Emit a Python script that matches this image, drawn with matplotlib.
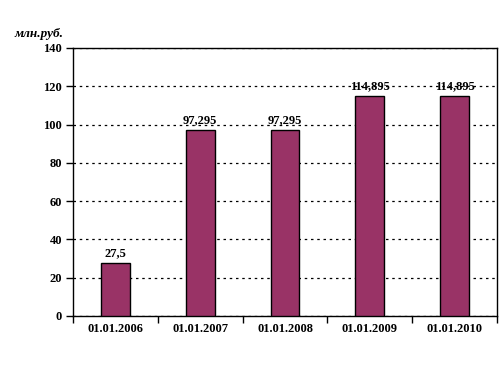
import matplotlib
matplotlib.use("Agg")
import matplotlib.pyplot as plt
import numpy as np

# chart data
dates = ["01.01.2006", "01.01.2007", "01.01.2008", "01.01.2009", "01.01.2010"]
values = [27.5, 97.295, 97.295, 114.895, 114.895]
labels = ["27,5", "97,295", "97,295", "114,895", "114,895"]
y_ticks = [0, 20, 40, 60, 80, 100, 120, 140]

plt.rcParams['font.family'] = ['Liberation Serif', 'DejaVu Serif']

fig = plt.figure(figsize=(5.02, 3.71), dpi=100)
ax = fig.add_axes([73 / 502, 1 - 316 / 371, (497 - 73) / 502, (316 - 48) / 371])

x = np.arange(len(dates))
bars = ax.bar(x, values, width=0.34, color='#993366', edgecolor='black', linewidth=1.0, zorder=3)

for xi, v, lab in zip(x, values, labels):
    ax.text(xi, v + 2, lab, ha='center', va='bottom', fontsize=9, fontweight='bold', zorder=4)

ax.set_xlim(-0.5, len(dates) - 0.5)
ax.set_ylim(0, 140)
ax.set_yticks(y_ticks)
ax.set_yticklabels([str(t) for t in y_ticks], fontsize=9, fontweight='bold')
ax.yaxis.grid(True, linestyle=(0, (2, 3)), color='black', linewidth=0.9, zorder=0)

# category labels centred, tick marks between categories
ax.set_xticks(np.arange(-0.5, len(dates) + 0.5, 1.0))
ax.set_xticklabels([])
ax.set_xticks(x, minor=True)
ax.set_xticklabels(dates, minor=True, fontsize=9, fontweight='bold')
ax.tick_params(axis='x', which='minor', length=0, pad=5)
ax.tick_params(axis='x', which='major', length=5, direction='out', width=1)
ax.tick_params(axis='y', length=5, direction='out', width=1, pad=3)

for s in ax.spines.values():
    s.set_linewidth(1.0)
    s.set_color('black')

fig.text(14 / 502, 1 - 34 / 371, "млн.руб.", fontsize=9.5, fontstyle='italic', fontweight='bold',
         ha='left', va='center')

fig.savefig("out.png", dpi=100)
